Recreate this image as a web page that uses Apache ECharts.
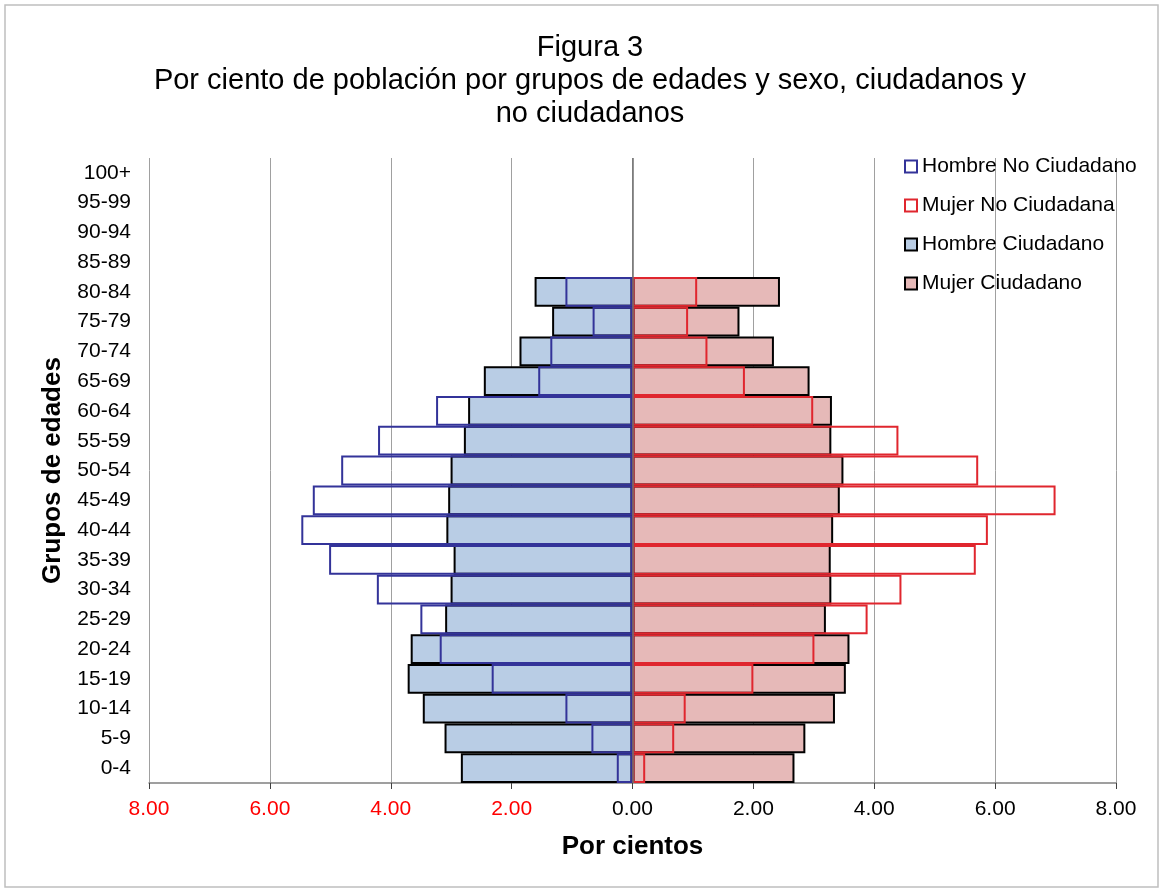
<!DOCTYPE html>
<html>
<head>
<meta charset="utf-8">
<script src="https://cdn.jsdelivr.net/npm/echarts@6/dist/echarts.min.js"></script>
<style>
html,body{margin:0;padding:0;background:#fff;}
#chart{width:1163px;height:891px;}
</style>
</head>
<body>
<div id="chart"></div>
<script>
// Age groups (bottom to top)
var categories = ['0-4','5-9','10-14','15-19','20-24','25-29','30-34','35-39','40-44','45-49','50-54','55-59','60-64','65-69','70-74','75-79','80-84','85-89','90-94','95-99','100+'];
// Percent values (males shown on the left side)
var hombreNoCiudadano = [0.26,0.68,1.11,2.33,3.19,3.51,4.23,5.02,5.48,5.29,4.82,4.21,3.25,1.56,1.36,0.66,1.11,0,0,0,0];
var mujerNoCiudadana  = [0.21,0.69,0.88,2.00,3.01,3.89,4.45,5.68,5.88,7.00,5.72,4.40,2.99,1.86,1.24,0.92,1.07,0,0,0,0];
var hombreCiudadano   = [2.84,3.11,3.47,3.72,3.67,3.10,3.01,2.96,3.08,3.05,3.01,2.79,2.72,2.46,1.87,1.33,1.62,0,0,0,0];
var mujerCiudadano    = [2.68,2.86,3.35,3.53,3.59,3.20,3.29,3.28,3.32,3.43,3.49,3.29,3.30,2.93,2.34,1.77,2.44,0,0,0,0];
var xTicks = [-8,-6,-4,-2,0,2,4,6,8];

var FONT = "'Liberation Sans', Arial, sans-serif";
var BLUE_FILL = '#B9CDE5', PINK_FILL = '#E6B9B8';
var NAVY = '#333399', RED = '#E0262E';

function neg(arr){ return arr.map(function(v){ return v === 0 ? null : -v; }); }
function pos(arr){ return arr.map(function(v){ return v === 0 ? null : v; }); }

var chart = echarts.init(document.getElementById('chart'));
var common = { type: 'bar', barGap: '-100%', barCategoryGap: '0%', animation: false };

chart.setOption({
  backgroundColor: '#fff',
  textStyle: { fontFamily: FONT },
  graphic: [{
    type: 'rect', shape: { x: 5, y: 5, width: 1153, height: 882 },
    style: { fill: 'none', stroke: '#bfbfbf', lineWidth: 1.5 }, silent: true, z: -10
  }],
  title: {
    text: 'Figura 3\nPor ciento de población por grupos de edades y sexo, ciudadanos y\nno ciudadanos',
    left: 585, top: 26, textAlign: 'center',
    textStyle: { fontFamily: FONT, fontSize: 29, fontWeight: 'normal', color: '#000', lineHeight: 33 }
  },
  legend: {
    orient: 'vertical', left: 904, top: 156, padding: 0, itemWidth: 12, itemHeight: 12, itemGap: 18,
    icon: 'rect',
    textStyle: { fontFamily: FONT, fontSize: 21, color: '#000', lineHeight: 21 },
    data: [
      { name: 'Hombre No Ciudadano', itemStyle: { color: '#fff', borderColor: NAVY, borderWidth: 2 } },
      { name: 'Mujer No Ciudadana', itemStyle: { color: '#fff', borderColor: RED, borderWidth: 2 } },
      { name: 'Hombre Ciudadano', itemStyle: { color: BLUE_FILL, borderColor: '#000', borderWidth: 2 } },
      { name: 'Mujer Ciudadano', itemStyle: { color: PINK_FILL, borderColor: '#000', borderWidth: 2 } }
    ]
  },
  grid: { left: 149, right: 47, top: 158, bottom: 108, containLabel: false },
  xAxis: {
    type: 'value', min: -8, max: 8, interval: 2,
    name: 'Por cientos', nameLocation: 'middle', nameGap: 51,
    nameTextStyle: { fontFamily: FONT, fontSize: 26, fontWeight: 'bold', color: '#000' },
    axisLine: { show: true, onZero: false, lineStyle: { color: '#808080', width: 1.5 } },
    axisTick: { show: true, length: 6, lineStyle: { color: '#404040', width: 1 } },
    axisLabel: {
      fontFamily: FONT, fontSize: 21, margin: 16,
      formatter: function(v){ return Math.abs(v).toFixed(2); },
      color: function(v){ return Number(v) < 0 ? '#FF0000' : '#000'; }
    },
    splitLine: { show: true, lineStyle: { color: '#a0a0a0', width: 1 } }
  },
  yAxis: {
    type: 'category', data: categories,
    name: 'Grupos de edades', nameLocation: 'middle', nameGap: 83,
    nameTextStyle: { fontFamily: FONT, fontSize: 26, fontWeight: 'bold', color: '#000' },
    axisLine: { show: false },
    axisTick: { show: false },
    axisLabel: { fontFamily: FONT, fontSize: 21, color: '#000', margin: 18 },
    splitLine: { show: false }
  },
  series: [
    Object.assign({}, common, {
      name: 'Hombre Ciudadano', data: neg(hombreCiudadano),
      itemStyle: { color: BLUE_FILL, borderColor: '#000', borderWidth: 2 }
    }),
    Object.assign({}, common, {
      name: 'Mujer Ciudadano', data: pos(mujerCiudadano),
      itemStyle: { color: PINK_FILL, borderColor: '#000', borderWidth: 2 }
    }),
    Object.assign({}, common, {
      name: 'Hombre No Ciudadano', data: neg(hombreNoCiudadano),
      itemStyle: { color: 'rgba(255,255,255,0)', borderColor: NAVY, borderWidth: 2 }
    }),
    Object.assign({}, common, {
      name: 'Mujer No Ciudadana', data: pos(mujerNoCiudadana),
      itemStyle: { color: 'rgba(255,255,255,0)', borderColor: RED, borderWidth: 2 },
      markLine: {
        silent: true, symbol: 'none', label: { show: false },
        lineStyle: { color: '#707070', width: 1.5, type: 'solid' },
        data: [{ xAxis: 0 }]
      }
    })
  ]
});
</script>
</body>
</html>
